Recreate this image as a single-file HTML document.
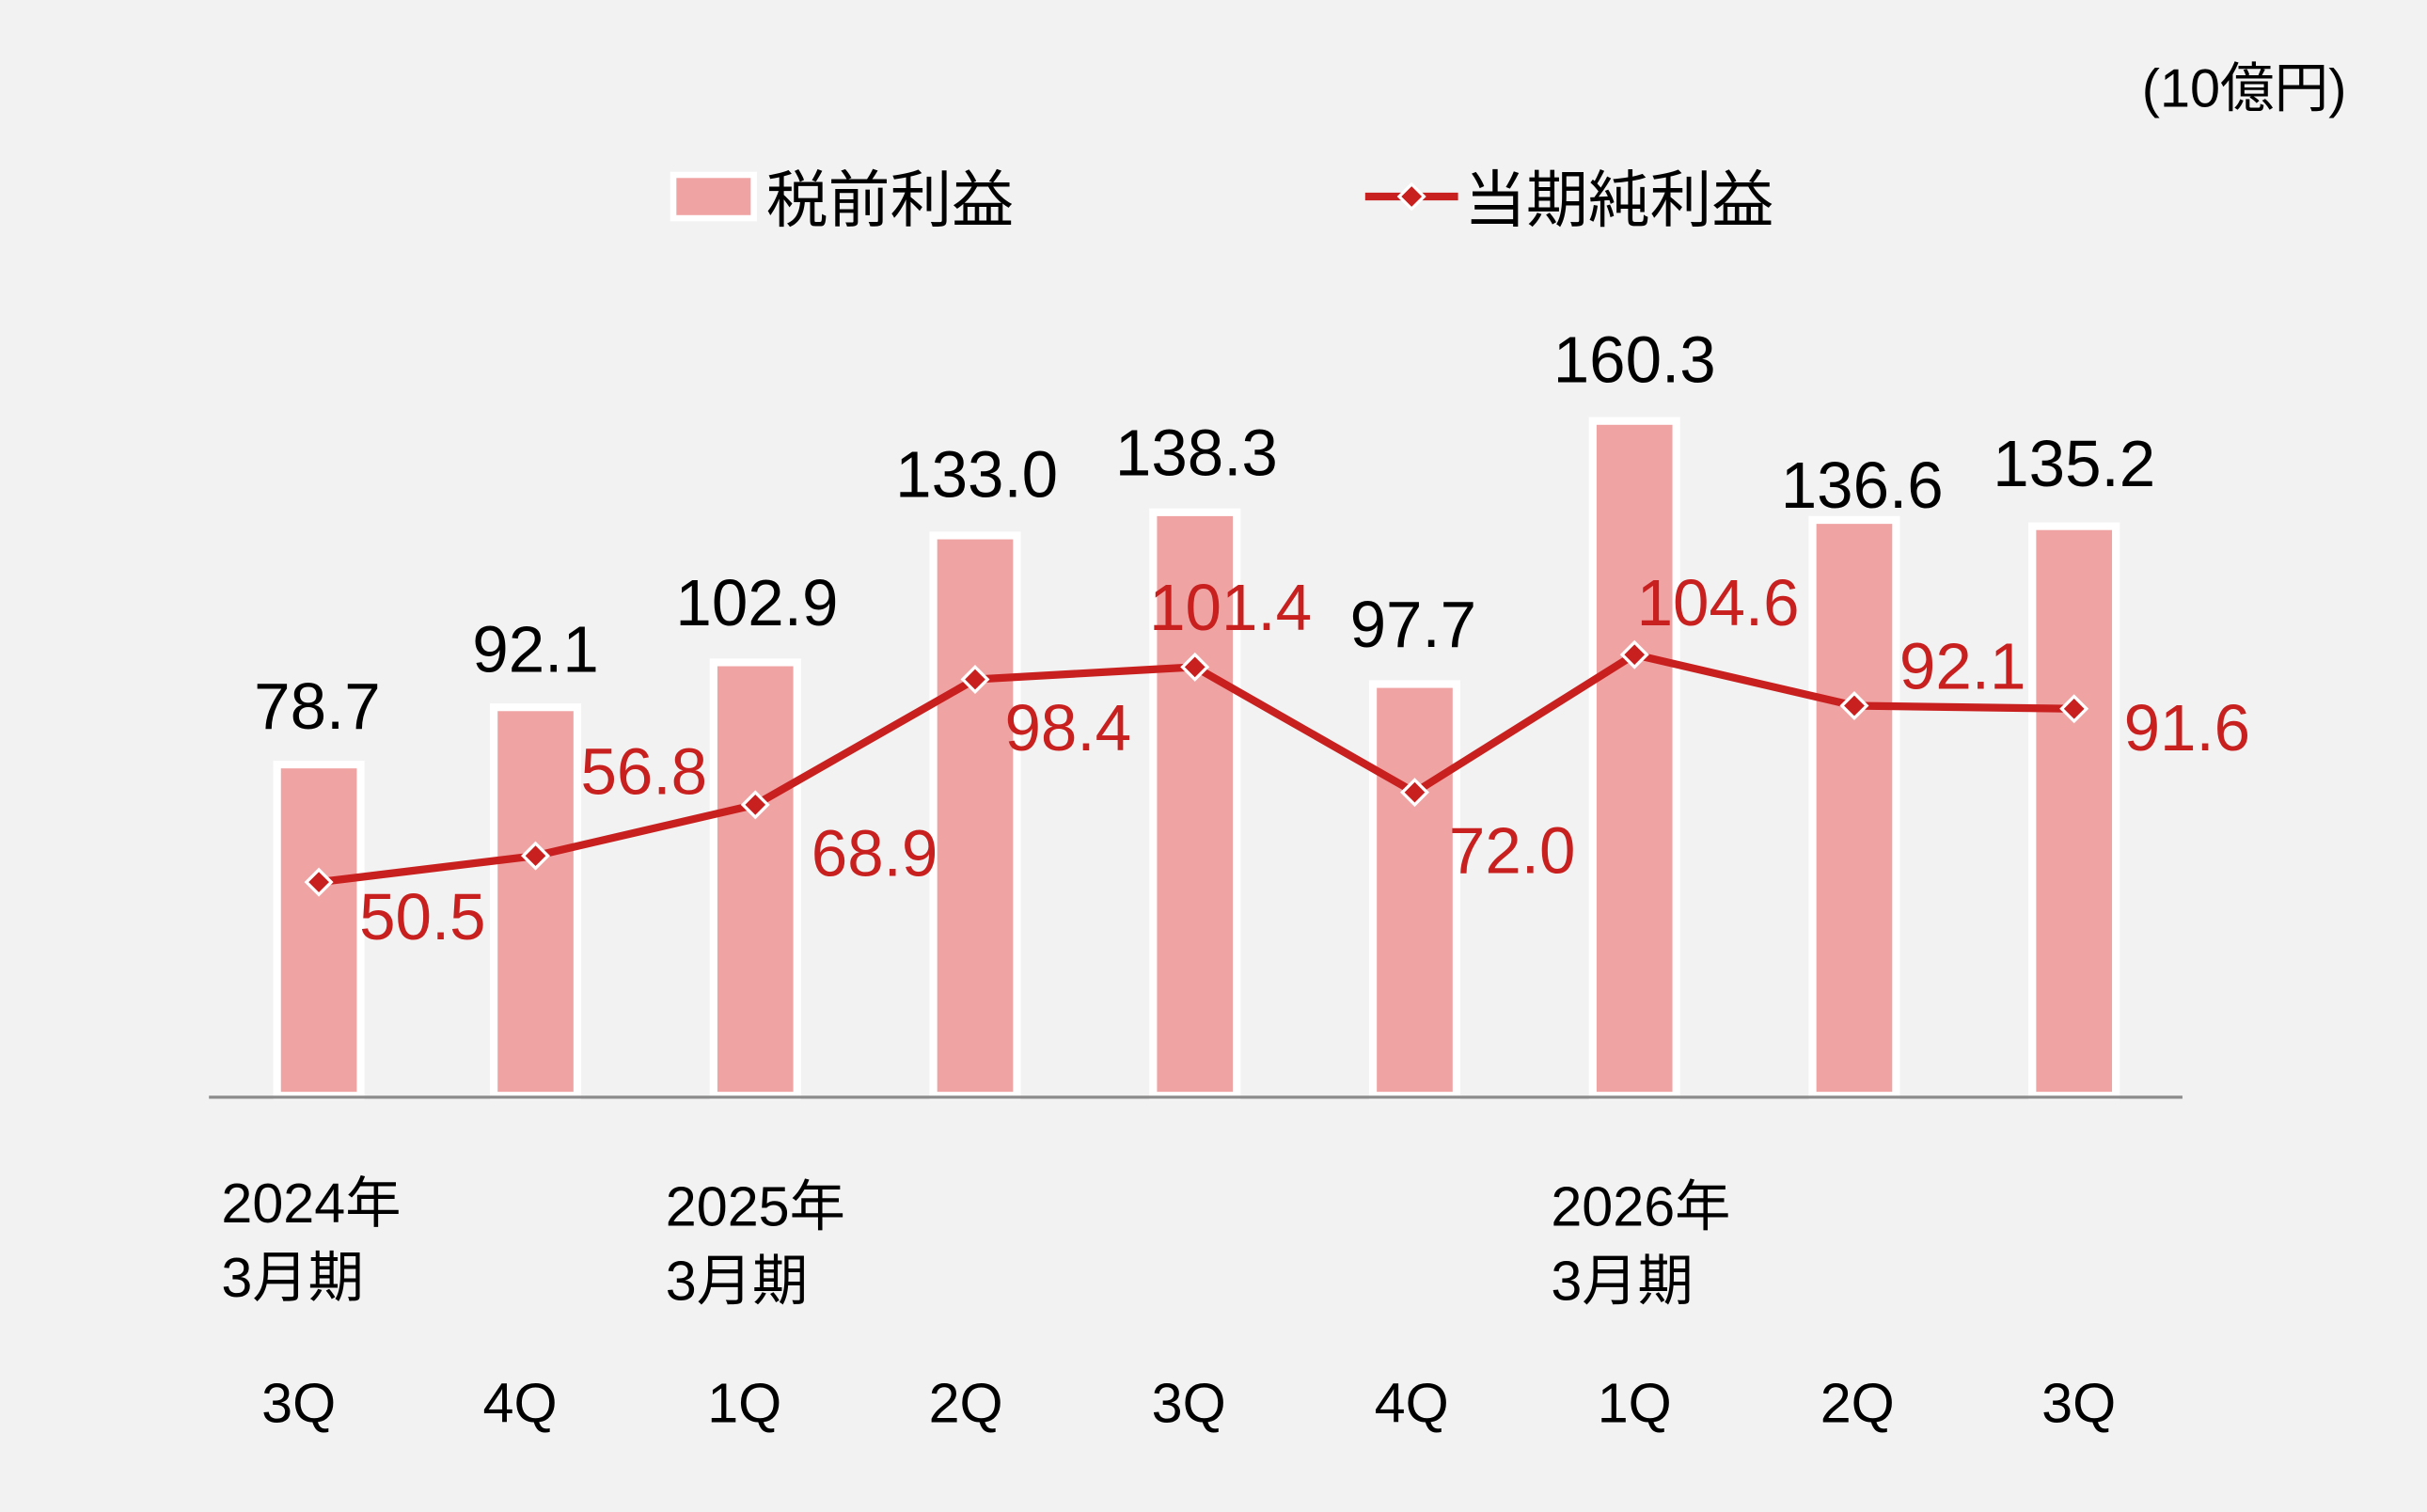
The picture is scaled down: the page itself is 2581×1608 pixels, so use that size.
<!DOCTYPE html>
<html><head><meta charset="utf-8"><style>
html,body{margin:0;padding:0;background:#f2f2f2;}
svg{display:block;}
text{font-family:"Liberation Sans","Noto Sans CJK JP",sans-serif;}
</style></head><body>
<svg width="2581" height="1608" viewBox="0 0 1568 977" preserveAspectRatio="none" xmlns="http://www.w3.org/2000/svg">
<rect width="1568" height="977" fill="#f2f2f2"/>
<text x="1516" y="69" font-size="35" text-anchor="end" fill="#000">(10億円)</text>
<rect x="435" y="113" width="52" height="28" fill="#f0a3a3" stroke="#fff" stroke-width="4"/>
<text x="495" y="143" font-size="40" fill="#000">税前利益</text>
<line x1="882" y1="127" x2="942" y2="127" stroke="#c8201f" stroke-width="5"/>
<path d="M912 119 L920 127 L912 135 L904 127 Z" fill="#c8201f" stroke="#fff" stroke-width="2"/>
<text x="946" y="143" font-size="40" fill="#000">当期純利益</text>
<g fill="#f0a3a3" stroke="#fff" stroke-width="5">
<rect x="179" y="494" width="54" height="214"/>
<rect x="319" y="457" width="54" height="251"/>
<rect x="461" y="428" width="54" height="280"/>
<rect x="603" y="346" width="54" height="362"/>
<rect x="745" y="331" width="54" height="377"/>
<rect x="887" y="442" width="54" height="266"/>
<rect x="1029" y="272" width="54" height="436"/>
<rect x="1171" y="336" width="54" height="372"/>
<rect x="1313" y="340" width="54" height="368"/>
</g>
<line x1="135" y1="709" x2="1410" y2="709" stroke="#8c8c8c" stroke-width="2"/>
<polyline points="206,570 346,553 488,520 630,439 772,431 914,512 1056,423 1198,456 1340,458" fill="none" stroke="#c8201f" stroke-width="5"/>
<g fill="#c8201f" stroke="#fff" stroke-width="2">
<path d="M206 562 l8 8 l-8 8 l-8 -8 Z"/>
<path d="M346 545 l8 8 l-8 8 l-8 -8 Z"/>
<path d="M488 512 l8 8 l-8 8 l-8 -8 Z"/>
<path d="M630 431 l8 8 l-8 8 l-8 -8 Z"/>
<path d="M772 423 l8 8 l-8 8 l-8 -8 Z"/>
<path d="M914 504 l8 8 l-8 8 l-8 -8 Z"/>
<path d="M1056 415 l8 8 l-8 8 l-8 -8 Z"/>
<path d="M1198 448 l8 8 l-8 8 l-8 -8 Z"/>
<path d="M1340 450 l8 8 l-8 8 l-8 -8 Z"/>
</g>
<g font-size="42" fill="#000" text-anchor="middle">
<text x="205" y="471">78.7</text>
<text x="346" y="434">92.1</text>
<text x="489" y="404">102.9</text>
<text x="631" y="321">133.0</text>
<text x="773" y="307">138.3</text>
<text x="913" y="418">97.7</text>
<text x="1056" y="247">160.3</text>
<text x="1203" y="328">136.6</text>
<text x="1340" y="314">135.2</text>
</g>
<g font-size="42" fill="#c8201f" text-anchor="middle">
<text x="273" y="607">50.5</text>
<text x="416" y="513">56.8</text>
<text x="565" y="566">68.9</text>
<text x="690" y="485">98.4</text>
<text x="795" y="407">101.4</text>
<text x="977" y="564">72.0</text>
<text x="1110" y="404">104.6</text>
<text x="1268" y="445">92.1</text>
<text x="1413" y="485">91.6</text>
</g>
<g font-size="36" fill="#000">
<text x="143" y="790">2024年</text><text x="143" y="838">3月期</text>
<text x="430" y="792">2025年</text><text x="430" y="840">3月期</text>
<text x="1002" y="792">2026年</text><text x="1002" y="840">3月期</text>
</g>
<g font-size="36" fill="#000" text-anchor="middle">
<text x="193" y="919">3Q</text><text x="336" y="919">4Q</text><text x="481" y="919">1Q</text>
<text x="624" y="919">2Q</text><text x="768" y="919">3Q</text><text x="912" y="919">4Q</text>
<text x="1056" y="919">1Q</text><text x="1200" y="919">2Q</text><text x="1343" y="919">3Q</text>
</g>
</svg>
</body></html>
